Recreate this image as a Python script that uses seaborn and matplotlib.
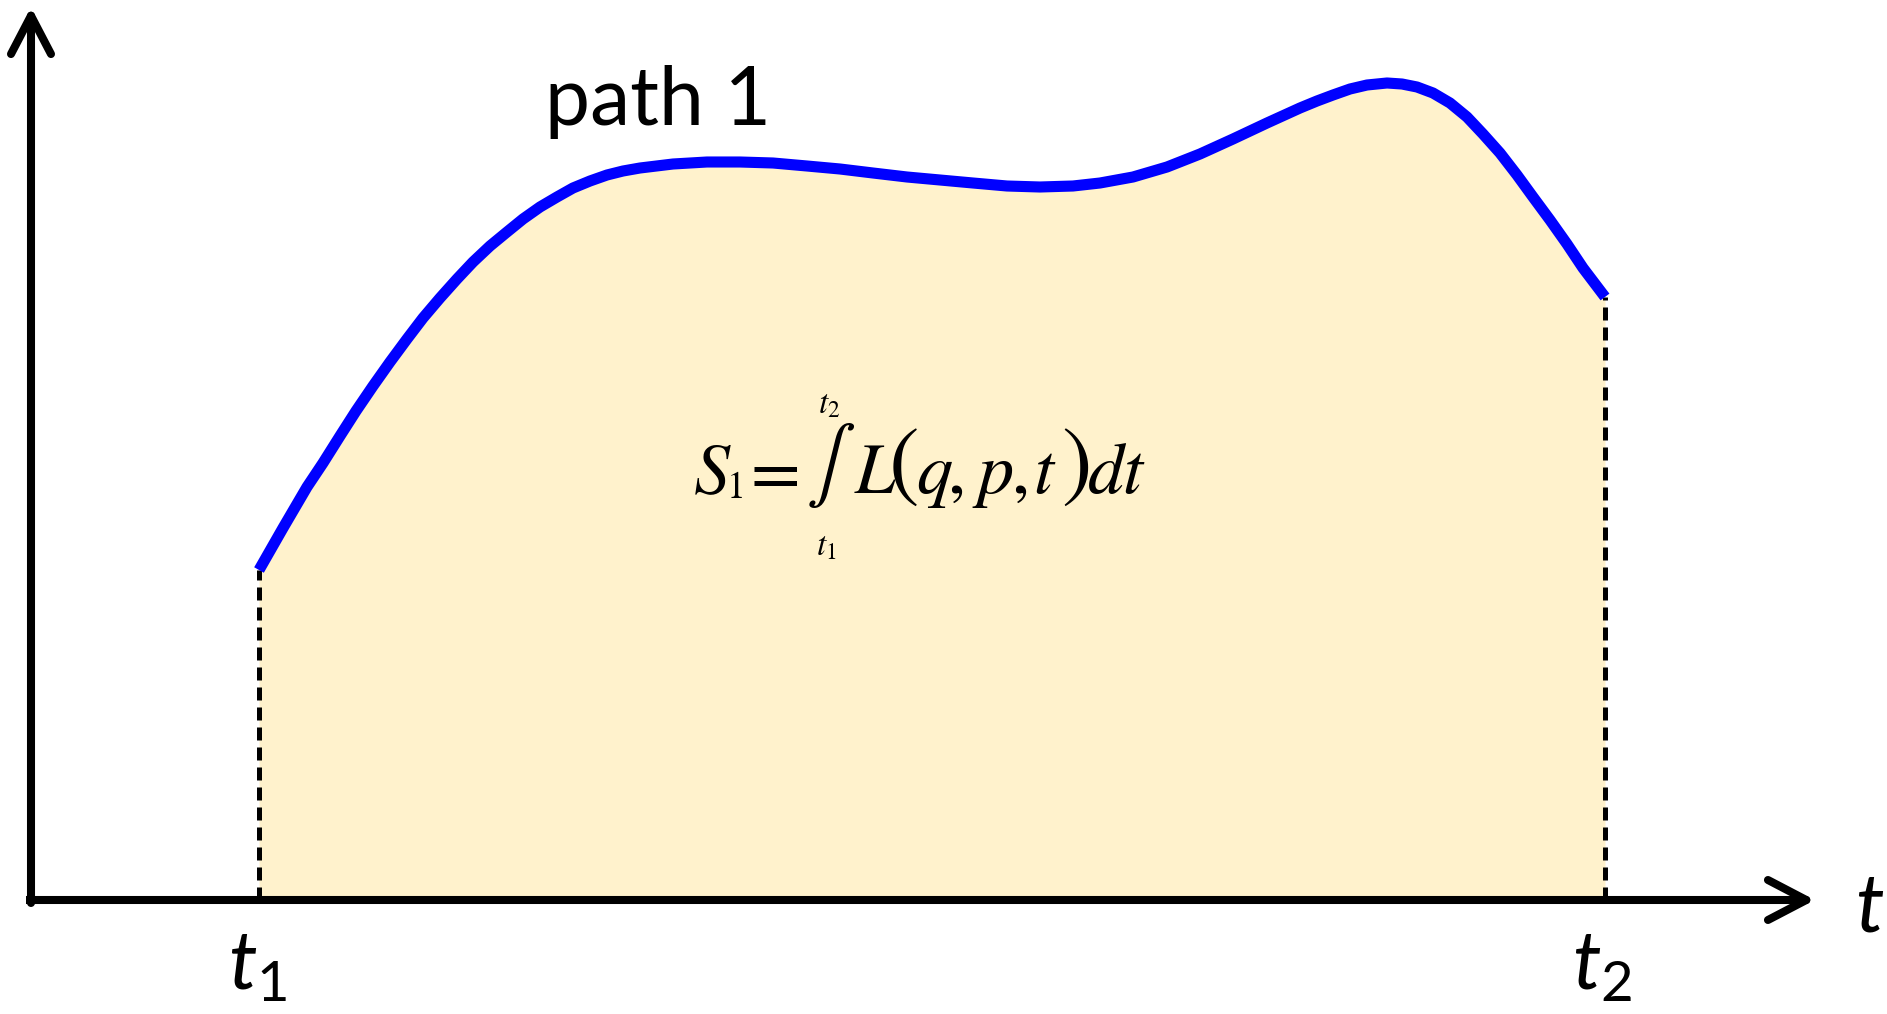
import matplotlib
matplotlib.use("Agg")
import matplotlib.pyplot as plt
import seaborn as sns
import numpy as np

# Path (t along the axis, height of the path)
t_vals = [2.28, 2.52, 2.76, 2.92, 3.09, 3.25, 3.42, 3.59, 3.76, 3.92, 4.09, 4.26,
          4.42, 4.59, 4.76, 4.92, 5.09, 5.26, 5.42, 5.59, 5.76, 5.92, 6.09, 6.42,
          6.76, 7.09, 7.42, 7.76, 8.09, 8.42, 8.76, 9.09, 9.42, 9.76, 10.09, 10.42,
          10.69, 11.02, 11.36, 11.69, 12.02, 12.36, 12.69, 12.86, 13.02, 13.19,
          13.36, 13.56, 13.71, 13.86, 14.02, 14.19, 14.36, 14.52, 14.69, 14.86,
          15.02, 15.19, 15.36, 15.52, 15.74]
path_vals = [3.30, 3.72, 4.13, 4.37, 4.64, 4.89, 5.14, 5.38, 5.61, 5.82, 6.02, 6.21,
             6.38, 6.54, 6.68, 6.81, 6.93, 7.03, 7.12, 7.19, 7.25, 7.29, 7.32, 7.36,
             7.38, 7.38, 7.37, 7.34, 7.31, 7.27, 7.23, 7.20, 7.17, 7.14, 7.13, 7.14,
             7.17, 7.23, 7.33, 7.46, 7.61, 7.77, 7.92, 7.99, 8.05, 8.11,
             8.15, 8.17, 8.16, 8.13, 8.07, 7.97, 7.83, 7.66, 7.47, 7.25,
             7.03, 6.80, 6.56, 6.32, 6.03]

path_label = "path 1"
axis_label = "$t$"
start_label = "$t_1$"
end_label = "$t_2$"

sns.set_theme(style="white")
plt.rcParams["font.family"] = ["Lato", "DejaVu Sans"]
plt.rcParams["text.color"] = "black"
plt.rcParams["mathtext.fontset"] = "custom"
plt.rcParams["mathtext.rm"] = "Lato"
plt.rcParams["mathtext.it"] = "Lato:italic"

fig = plt.figure(figsize=(18.87, 10.14), dpi=100)
ax = fig.add_axes([0, 0, 1, 1])
ax.set_xlim(-0.31, 18.56)
ax.set_ylim(-1.14, 9.00)
ax.axis("off")

t = np.array(t_vals)
s = np.array(path_vals)

# shaded area under the path
ax.fill_between(t, s, 0, color="#FFF2CC", linewidth=0, zorder=1)

# the path itself
sns.lineplot(x=t, y=s, ax=ax, color="#0000FF", linewidth=8,
             solid_capstyle="butt", solid_joinstyle="round", zorder=3)

# dashed drops at the end points
ax.vlines([t[0], t[-1]], 0, [s[0], s[-1]], colors="black", linewidth=3.6,
          linestyles=(0, (2.6, 1.4)), zorder=2)

# axes with open arrow heads
arrow = dict(arrowstyle="->,head_length=2.3,head_width=1.2", lw=5.8, color="black",
             shrinkA=0, shrinkB=0, capstyle="round", joinstyle="round")
ax.plot([-0.05, 0.03], [0, 0], color="black", lw=5.8, solid_capstyle="butt", zorder=4)
ax.annotate("", xy=(17.84, 0), xytext=(0.0, 0), arrowprops=arrow, zorder=4)
ax.annotate("", xy=(0, 8.93), xytext=(0, -0.03), arrowprops=arrow, zorder=4)

# labels
ax.text(5.14, 7.75, path_label, fontsize=58, ha="left", va="baseline")
ax.text(18.39, -0.32, axis_label, fontsize=58, ha="center", va="baseline")
ax.text(1.97, -0.90, start_label, fontsize=58, ha="left", va="baseline")
ax.text(15.41, -0.90, end_label, fontsize=58, ha="left", va="baseline")

# action integral  S_1 = int_{t1}^{t2} L(q, p, t) dt, set glyph by glyph
base = 4.07
glyphs = [("$S$", 6.81), ("$=$", 7.38), ("$L$", 8.44), ("$q$", 9.03), ("$,$", 9.24),
          ("$p$", 9.62), ("$,$", 9.88), ("$t$", 10.14), ("$d$", 10.76), ("$t$", 11.03)]
for g, gx in glyphs:
    ax.text(gx, base, g, math_fontfamily="stix", fontsize=52, ha="center", va="baseline")
ax.text(7.03, 4.02, "$1$", math_fontfamily="stix", fontsize=27, ha="center", va="baseline")
ax.text(8.72, 4.34, "$($", math_fontfamily="stix", fontsize=66, ha="center", va="center")
ax.text(10.44, 4.34, "$)$", math_fontfamily="stix", fontsize=66, ha="center", va="center")
ax.text(8.00, 4.35, r"$\int$", math_fontfamily="stix", fontsize=53, ha="center", va="center")
ax.text(7.98, 4.95, "$t_2$", math_fontfamily="stix", fontsize=24, ha="center", va="center")
ax.text(7.95, 3.53, "$t_1$", math_fontfamily="stix", fontsize=24, ha="center", va="center")

fig.savefig("out.png", dpi=100)
